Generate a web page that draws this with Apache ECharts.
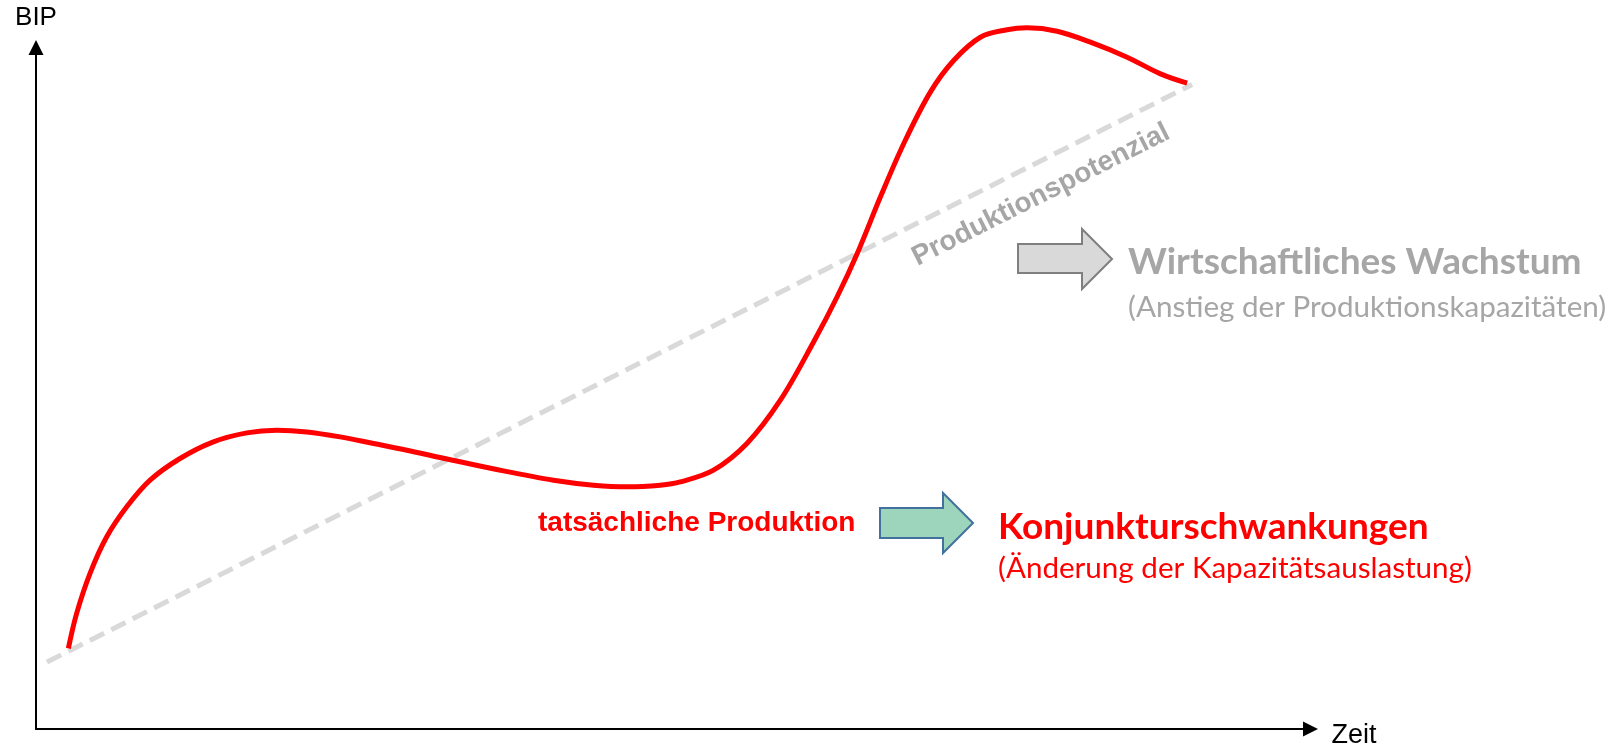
<!DOCTYPE html>
<html>
<head>
<meta charset="utf-8">
<script src="https://cdn.jsdelivr.net/npm/echarts@6/dist/echarts.min.js"></script>
<style>
html,body{margin:0;padding:0;background:#fff;}
#chart{width:1619px;height:744px;}
</style>
</head>
<body>
<div id="chart"></div>
<script>
// Actual production (tatsächliche Produktion): time (Zeit) and GDP (BIP), arbitrary units
const zeit = [2.54, 3.19, 4.24, 5.55, 7.12, 8.95, 11.30, 13.92, 16.54, 18.89, 21.25, 23.86, 26.48, 29.10, 31.71,
  36.68, 40.60, 43.74, 46.37, 48.98, 50.55, 53.16, 55.78, 58.40, 61.01, 62.85, 64.54, 66.25, 68.08, 70.17,
  72.00, 74.10, 76.19, 77.76, 80.12, 82.73, 85.61, 88.23, 90.32];
const bip = [11.83, 16.96, 22.83, 28.20, 32.60, 36.51, 39.69, 42.13, 43.45, 43.84, 43.59, 42.86, 41.89, 40.91, 39.84,
  37.87, 36.51, 35.78, 35.53, 35.78, 36.26, 37.98, 41.89, 48.24, 56.79, 63.39, 70.23, 78.05, 85.88, 93.45,
  98.09, 101.51, 102.60, 102.89, 102.39, 100.78, 98.58, 96.13, 94.77];
// Production potential (Produktionspotenzial): straight trend line
const potenzialZeit = [0.86, 90.71];
const potenzialBip = [9.82, 94.57];

const produktion = zeit.map((x, i) => [x, bip[i]]);
const potenzial = potenzialZeit.map((x, i) => [x, potenzialBip[i]]);

const chart = echarts.init(document.getElementById('chart'), null, {renderer: 'canvas'});

const axisCommon = {
  type: 'value', min: 0, max: 100,
  axisLine: {show: true, onZero: false, symbol: ['none', 'triangle'], symbolSize: [15, 15],
    lineStyle: {color: '#000', width: 2}},
  axisTick: {show: false}, axisLabel: {show: false}, splitLine: {show: false},
  nameLocation: 'end'
};

const arial = 'Liberation Sans';

chart.setOption({
  animation: false,
  backgroundColor: '#fff',
  grid: {left: 36, top: 47.5, right: 308.5, bottom: 15, containLabel: false, outerBoundsMode: 'none'},
  xAxis: Object.assign({}, axisCommon, {name: '{z|Zeit}', nameGap: 21,
    nameTextStyle: {rich: {z: {fontSize: 27, color: '#000', fontFamily: arial, padding: [14, 0, 0, 0]}}}}),
  yAxis: Object.assign({}, axisCommon, {name: 'BIP', nameGap: 17,
    nameTextStyle: {fontSize: 26, color: '#000', fontFamily: arial}}),
  series: [
    {type: 'line', data: potenzial, showSymbol: false, clip: false, z: 2,
      lineStyle: {color: '#d9d9d9', width: 5, type: [16, 8]}},
    {type: 'line', data: produktion, showSymbol: false, smooth: 0.35, clip: false, z: 3,
      lineStyle: {color: '#ff0000', width: 5}}
  ],
  graphic: [
    {type: 'text', x: 1041, y: 195, rotation: Math.atan2(578, 1145), z: 10,
      style: {text: 'Produktionspotenzial', font: 'bold 28px "Liberation Sans"', fill: '#a6a6a6',
        textAlign: 'center', textVerticalAlign: 'middle'}},
    {type: 'polygon', z: 10,
      shape: {points: [[1018, 244], [1082, 244], [1082, 229], [1112, 259], [1082, 289], [1082, 273], [1018, 273]]},
      style: {fill: '#d9d9d9', stroke: '#7f7f7f', lineWidth: 2}},
    {type: 'text', x: 1128, y: 262, z: 10,
      style: {text: 'Wirtschaftliches Wachstum', font: 'bold 37px "Lato"', fill: '#a6a6a6',
        textAlign: 'left', textVerticalAlign: 'middle'}},
    {type: 'text', x: 1128, y: 307, z: 10,
      style: {text: '(Anstieg der Produktionskapazitäten)', font: '29.6px "Lato"', fill: '#a6a6a6',
        textAlign: 'left', textVerticalAlign: 'middle'}},
    {type: 'text', x: 538, y: 523, z: 10,
      style: {text: 'tatsächliche Produktion', font: 'bold 28px "Liberation Sans"', fill: '#ff0000',
        textAlign: 'left', textVerticalAlign: 'middle'}},
    {type: 'polygon', z: 10,
      shape: {points: [[880, 508], [943, 508], [943, 493], [973, 523], [943, 553], [943, 538], [880, 538]]},
      style: {fill: '#9dd5bc', stroke: '#41719c', lineWidth: 2}},
    {type: 'text', x: 998, y: 527, z: 10,
      style: {text: 'Konjunkturschwankungen', font: 'bold 37px "Lato"', fill: '#ff0000',
        textAlign: 'left', textVerticalAlign: 'middle'}},
    {type: 'text', x: 998, y: 568, z: 10,
      style: {text: '(Änderung der Kapazitätsauslastung)', font: '29.6px "Lato"', fill: '#ff0000',
        textAlign: 'left', textVerticalAlign: 'middle'}}
  ]
});
</script>
</body>
</html>
